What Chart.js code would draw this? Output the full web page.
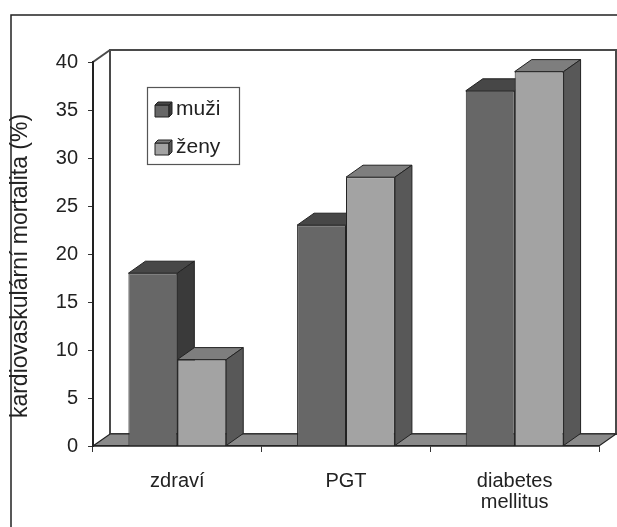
<!DOCTYPE html>
<html>
<head>
<meta charset="utf-8">
<script src="https://cdn.jsdelivr.net/npm/chart.js@4"></script>
<style>
  html, body { margin: 0; padding: 0; background: #fff; }
  canvas { display: block; }
</style>
</head>
<body>
<canvas id="chart" width="617" height="527"></canvas>
<script>
// Cardiovascular mortality by glucose tolerance group, men vs. women
const categories = ['zdraví', 'PGT', ['diabetes', 'mellitus']];
const seriesNames = ['muži', 'ženy'];
const muzi = [18, 23, 37];
const zeny = [9, 28, 39];
const yAxisTitle = 'kardiovaskulární mortalita (%)';
const yMin = 0, yMax = 40, yStep = 5;

// Look of the pseudo-3D boxes
const DEPTH_X = 17, DEPTH_Y = -12;
const FONT = "'Liberation Sans', Arial, sans-serif";
const INK = '#222';
const faces = [
  { front: '#676767', top: '#474747', side: '#3a3a3a' },
  { front: '#a3a3a3', top: '#7e7e7e', side: '#585858' }
];

function poly(ctx, pts, fill, stroke, lw) {
  ctx.beginPath();
  ctx.moveTo(pts[0][0], pts[0][1]);
  for (let i = 1; i < pts.length; i++) ctx.lineTo(pts[i][0], pts[i][1]);
  ctx.closePath();
  if (fill) { ctx.fillStyle = fill; ctx.fill(); }
  if (stroke) { ctx.strokeStyle = stroke; ctx.lineWidth = lw || 1; ctx.stroke(); }
}

const box3d = {
  id: 'box3d',
  beforeDraw(chart) {
    const { ctx, chartArea: a } = chart;
    ctx.save();
    // outer frame
    ctx.strokeStyle = INK; ctx.lineWidth = 1.5;
    ctx.beginPath();
    ctx.moveTo(11, 560); ctx.lineTo(11, 15); ctx.lineTo(660, 15);
    ctx.stroke();
    // back wall
    ctx.strokeStyle = '#4a4a4a'; ctx.lineWidth = 2;
    ctx.strokeRect(a.left + DEPTH_X, a.top + DEPTH_Y, a.right - a.left, a.bottom - a.top);
    // left wall top edge
    ctx.beginPath();
    ctx.moveTo(a.left, a.top); ctx.lineTo(a.left + DEPTH_X, a.top + DEPTH_Y);
    ctx.stroke();
    // floor
    poly(ctx, [[a.left, a.bottom], [a.right, a.bottom],
               [a.right + DEPTH_X, a.bottom + DEPTH_Y], [a.left + DEPTH_X, a.bottom + DEPTH_Y]],
         '#8a8a8a', INK, 1.2);
    // rotated value-axis title
    ctx.fillStyle = INK;
    ctx.font = '23px ' + FONT;
    ctx.textAlign = 'center';
    ctx.textBaseline = 'middle';
    ctx.translate(21, 266);
    ctx.rotate(-Math.PI / 2);
    ctx.fillText(yAxisTitle, 0, 0);
    ctx.restore();
  },
  // boxes are painted below, series by series, so that each front hides the side behind it
  beforeDatasetDraw() { return false; },
  afterDatasetsDraw(chart) {
    const { ctx } = chart;
    ctx.save();
    ctx.lineJoin = 'round';
    chart.data.datasets.forEach((ds, i) => {
      const f = faces[i];
      chart.getDatasetMeta(i).data.forEach(bar => {
        bar.draw(ctx);
        const { x, y, base, width } = bar.getProps(['x', 'y', 'base', 'width'], true);
        const l = x - width / 2, r = x + width / 2;
        poly(ctx, [[l, y], [r, y], [r + DEPTH_X, y + DEPTH_Y], [l + DEPTH_X, y + DEPTH_Y]], f.top, INK, 1);
        poly(ctx, [[r, y], [r + DEPTH_X, y + DEPTH_Y], [r + DEPTH_X, base + DEPTH_Y], [r, base]], f.side, INK, 1);
      });
    });
    ctx.restore();
  },
  afterDraw(chart) {
    const { ctx } = chart;
    ctx.save();
    // legend box
    ctx.fillStyle = '#fff';
    ctx.fillRect(147, 87, 92, 77);
    ctx.strokeStyle = '#555'; ctx.lineWidth = 1.2;
    ctx.strokeRect(147.5, 87.5, 92, 77);
    ctx.font = '21px ' + FONT;
    ctx.textBaseline = 'middle';
    chart.data.datasets.forEach((ds, i) => {
      const cy = 109 + i * 38;
      const sx = 155, sy = cy - 7;
      poly(ctx, [[sx, sy + 3], [sx + 14, sy + 3], [sx + 14, sy + 15], [sx, sy + 15]], ds.backgroundColor, INK, 1);
      poly(ctx, [[sx, sy + 3], [sx + 3, sy], [sx + 17, sy], [sx + 14, sy + 3]], faces[i].top, INK, 1);
      poly(ctx, [[sx + 14, sy + 3], [sx + 17, sy], [sx + 17, sy + 12], [sx + 14, sy + 15]], faces[i].side, INK, 1);
      ctx.fillStyle = INK;
      ctx.fillText(ds.label, 176, cy);
    });
    ctx.restore();
  }
};

new Chart(document.getElementById('chart'), {
  type: 'bar',
  data: {
    labels: categories,
    datasets: [
      { label: seriesNames[0], data: muzi, backgroundColor: faces[0].front,
        borderColor: INK, borderWidth: 1 },
      { label: seriesNames[1], data: zeny, backgroundColor: faces[1].front,
        borderColor: INK, borderWidth: 1 }
    ]
  },
  options: {
    responsive: false,
    animation: false,
    datasets: { bar: { categoryPercentage: 0.58, barPercentage: 1 } },
    layout: { padding: { top: 62, right: 18, left: 0, bottom: 0 } },
    plugins: { legend: { display: false }, tooltip: { enabled: false } },
    scales: {
      x: {
        grid: { drawOnChartArea: false, drawTicks: true, tickLength: 6, color: '#333', offset: true },
        border: { display: true, color: INK, width: 1.5 },
        ticks: { color: INK, font: { family: FONT, size: 20, lineHeight: 1.05 },
                 padding: 19, maxRotation: 0, autoSkip: false },
        afterFit(s) { s.height = 81; }
      },
      y: {
        min: yMin, max: yMax,
        ticks: { stepSize: yStep, color: INK, font: { family: FONT, size: 20 }, padding: 10 },
        grid: { drawOnChartArea: false, drawTicks: true, tickLength: 5, color: '#333' },
        border: { display: true, color: INK, width: 2 },
        afterFit(s) { s.width = 93; }
      }
    }
  },
  plugins: [box3d]
});
</script>
</body>
</html>
